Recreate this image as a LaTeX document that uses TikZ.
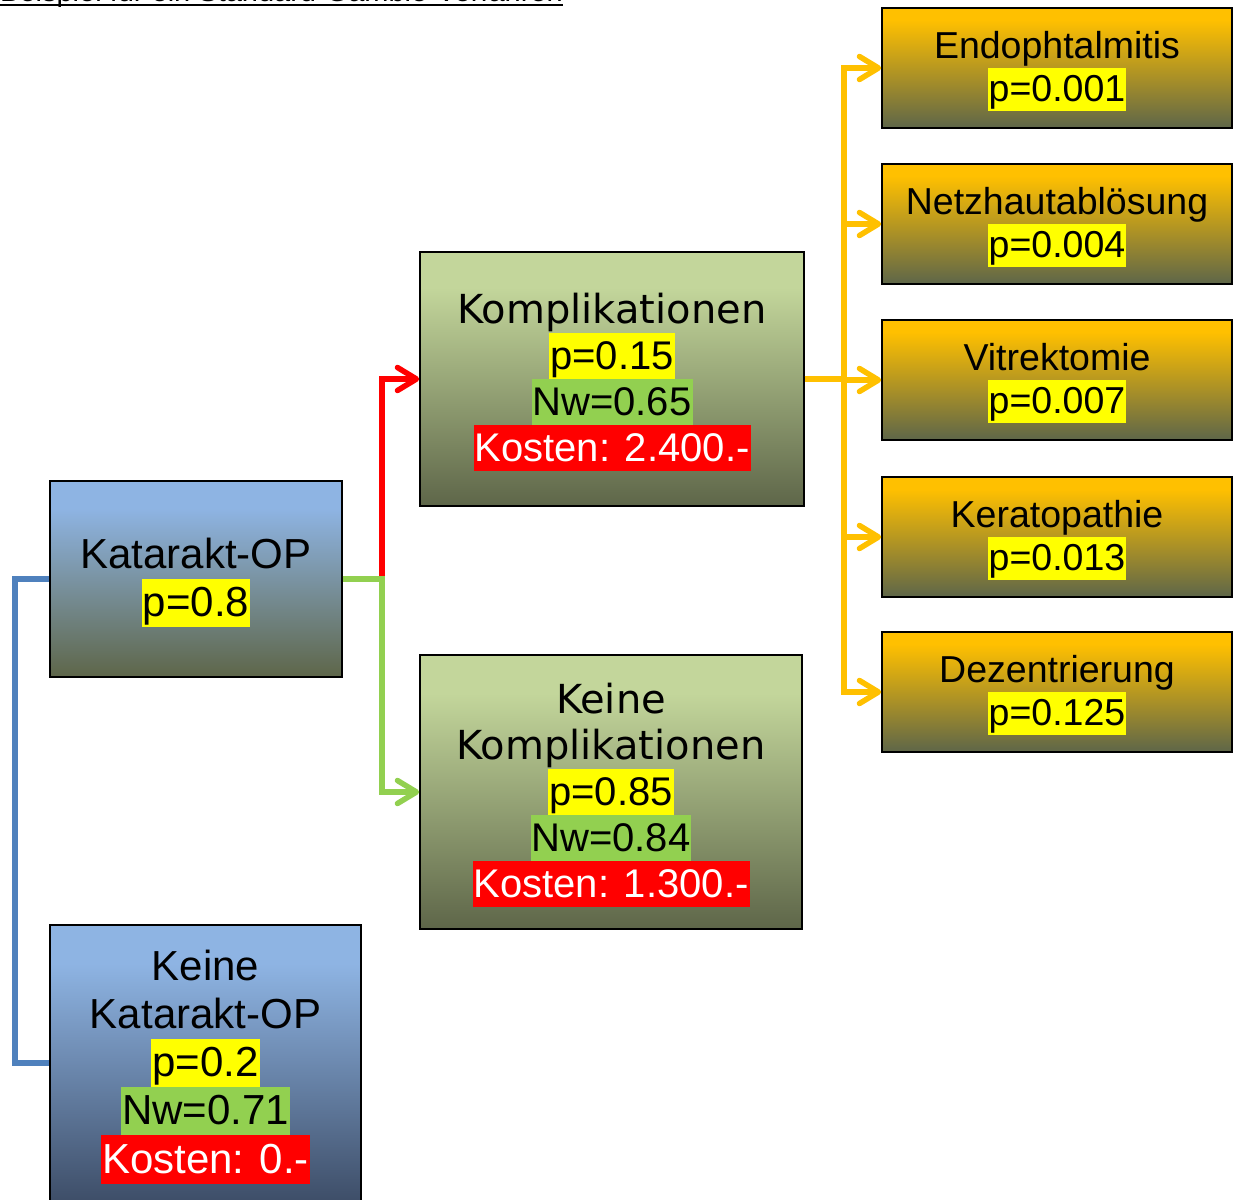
\documentclass[tikz,border=0pt]{standalone}
\usepackage{fontspec}
\setmainfont{Liberation Sans}
\newfontfamily\dvfont{DejaVu Sans}
\usetikzlibrary{arrows.meta}

\definecolor{blueTop}{RGB}{142,180,227}
\definecolor{oliveBot}{RGB}{94,102,73}
\definecolor{slateBot}{RGB}{62,78,104}
\definecolor{greenTop}{RGB}{195,214,155}
\definecolor{orangeTop}{RGB}{255,192,0}
\definecolor{hlYellow}{RGB}{255,255,0}
\definecolor{hlGreen}{RGB}{146,208,80}
\definecolor{hlRed}{RGB}{255,0,0}
\definecolor{lnBlue}{RGB}{79,129,189}
\definecolor{lnGreen}{RGB}{146,208,80}
\definecolor{lnRed}{RGB}{255,0,0}
\definecolor{lnOrange}{RGB}{255,192,0}

% vertical fills: 25bp = bottom edge of the box, 75bp = top edge
\pgfdeclareverticalshading{blueOlive}{100bp}{color(0bp)=(oliveBot); color(25bp)=(oliveBot); color(68bp)=(blueTop); color(100bp)=(blueTop)}
\pgfdeclareverticalshading{blueSlate}{100bp}{color(0bp)=(slateBot); color(25bp)=(slateBot); color(68bp)=(blueTop); color(100bp)=(blueTop)}
\pgfdeclareverticalshading{greenOlive}{100bp}{color(0bp)=(oliveBot); color(25bp)=(oliveBot); color(68bp)=(greenTop); color(100bp)=(greenTop)}
\pgfdeclareverticalshading{orangeOlive}{100bp}{color(0bp)=(oliveBot); color(25bp)=(oliveBot); color(70bp)=(orangeTop); color(100bp)=(orangeTop)}

% highlighted value line
\newcommand\hlval[2]{{\setlength{\fboxsep}{0pt}\colorbox{#1}{\rule[-0.25em]{0pt}{1.15em}\hspace{1pt}#2\hspace{1pt}}}}
\newcommand\costval[1]{\hlval{hlRed}{\color{white}#1}}
\newcommand\tightlines{\lineskiplimit=-20pt\relax}
% first line gets the same height as a highlighted line
\newcommand\topline{\rule{0pt}{0.9em}}

\begin{document}
\begin{tikzpicture}[x=1pt,y=-1pt,
  box/.style={draw=black, line width=1.6pt, inner sep=0pt, align=center, shade},
  blueBox/.style={box, shading=blueOlive},
  slateBox/.style={box, shading=blueSlate},
  greenBox/.style={box, shading=greenOlive},
  orangeBox/.style={box, shading=orangeOlive, minimum width=350, minimum height=120,
    font=\fontsize{37.5}{43.1}\selectfont\tightlines},
  bigFont/.style={font=\fontsize{42}{48.3}\selectfont\tightlines},
  midFont/.style={font=\fontsize{40}{46}\selectfont\tightlines},
  link/.style={line width=5.5pt},
  tip/.style={-{Straight Barb[length=19pt,width=23pt,round]}}
]
\useasboundingbox (0,0) rectangle (1241,1199);
\clip (0,0) rectangle (1241,1199);

% heading
\node[anchor=base west, inner sep=0pt, font=\fontsize{29}{34}\selectfont] (title) at (0,2)
  {Beispiel für ein Standard-Gamble-Verfahren};
\draw[line width=2pt] ([yshift=-3pt]title.base west) -- ([yshift=-3pt]title.base east);

% decision and chance nodes
\node[blueBox, bigFont, minimum width=292, minimum height=196] (op) at (196,579)
  {\topline Katarakt-OP\\\hlval{hlYellow}{p=0.8}};
\node[slateBox, bigFont, minimum width=311, minimum height=276] (noop) at (205.5,1063)
  {\topline Keine\\Katarakt-OP\\\hlval{hlYellow}{p=0.2}\\\hlval{hlGreen}{Nw=0.71}\\\costval{Kosten: 0.-}};
\node[greenBox, midFont, minimum width=384, minimum height=254] (komp) at (612,379)
  {\topline{\dvfont Komplikationen}\\\hlval{hlYellow}{p=0.15}\\\hlval{hlGreen}{Nw=0.65}\\\costval{Kosten: 2.400.-}};
\node[greenBox, midFont, minimum width=382, minimum height=274] (nokomp) at (611,792)
  {\topline{\dvfont Keine}\\{\dvfont Komplikationen}\\\hlval{hlYellow}{p=0.85}\\\hlval{hlGreen}{Nw=0.84}\\\costval{Kosten: 1.300.-}};

% complications
\node[orangeBox] (c1) at (1057,68)  {\topline Endophtalmitis\\\hlval{hlYellow}{p=0.001}};
\node[orangeBox] (c2) at (1057,224) {\topline Netzhautablösung\\\hlval{hlYellow}{p=0.004}};
\node[orangeBox] (c3) at (1057,380) {\topline Vitrektomie\\\hlval{hlYellow}{p=0.007}};
\node[orangeBox] (c4) at (1057,537) {\topline Keratopathie\\\hlval{hlYellow}{p=0.013}};
\node[orangeBox] (c5) at (1057,692) {\topline Dezentrierung\\\hlval{hlYellow}{p=0.125}};

% branches
\draw[link, lnBlue] (op.west) -- ++(-34,0) |- (noop.west);
\draw[link, lnRed, tip] (op.east) -- ++(39,0) |- (komp.west);
\draw[link, lnGreen, tip] (op.east) -- ++(39,0) |- (nokomp.west);
\foreach \c in {c1,c2,c3,c4,c5}
  \draw[link, lnOrange, tip] (komp.east) -- ++(39,0) |- (\c.west);
\end{tikzpicture}
\end{document}
